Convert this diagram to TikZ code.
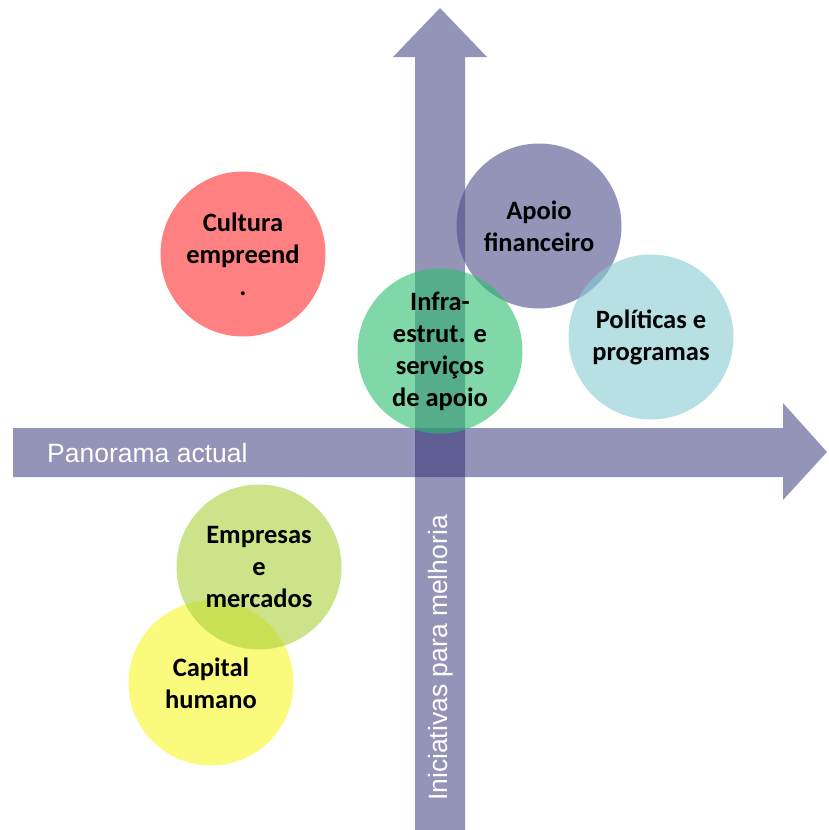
\documentclass[tikz,border=0pt]{standalone}
\usepackage{fontspec}
\setmainfont{Carlito}
\newfontfamily\arialf{Liberation Sans}
\definecolor{axisc}{RGB}{41,41,113}
\definecolor{culturac}{RGB}{255,43,43}
\definecolor{apoioc}{RGB}{77,77,137}
\definecolor{politc}{RGB}{135,203,210}
\definecolor{infrac}{RGB}{43,190,110}
\definecolor{empresac}{RGB}{172,208,60}
\definecolor{capitalc}{RGB}{247,247,38}
\begin{document}
\begin{tikzpicture}[x=1pt,y=-1pt,
  axis/.style={fill=axisc, fill opacity=0.5},
  bubble/.style={circle, minimum size=165pt, inner sep=0pt, fill opacity=0.6, text opacity=1,
    align=center, text=black, font=\fontsize{26.5}{32}\selectfont\bfseries},
  axislabel/.style={text=white, font=\arialf\fontsize{26.5}{30}\selectfont, inner sep=0pt}]
\useasboundingbox (0,0) rectangle (828,830);
% axes
\fill[axis] (415,830) -- (415,57) -- (393,57) -- (440,8) -- (487,57) -- (465,57) -- (465,830) -- cycle;
\fill[axis] (13,428) -- (783,428) -- (783,403) -- (827,452) -- (783,500) -- (783,477) -- (13,477) -- cycle;
\node[axislabel, anchor=base west] (pan) at (47,462) {Panorama actual};
\node[axislabel, rotate=90] (ini) at (441,658) {Iniciativas para melhoria};
% bubbles
\node[bubble, fill=culturac] (cult) at (243,254) {Cultura\\empreend\\.};
\node[bubble, fill=apoioc] (apoio) at (539,226) {Apoio\\financeiro};
\node[bubble, fill=politc] (polit) at (651,337) {Políticas e\\programas};
\node[bubble, fill=infrac] (infra) at (440,351) {Infra-\\estrut. e\\serviços\\de apoio};
\node[bubble, fill=capitalc] (cap) at (211,683) {Capital\\humano};
\node[bubble, fill=empresac] (emp) at (259,567) {Empresas\\e\\mercados};
\end{tikzpicture}
\end{document}
